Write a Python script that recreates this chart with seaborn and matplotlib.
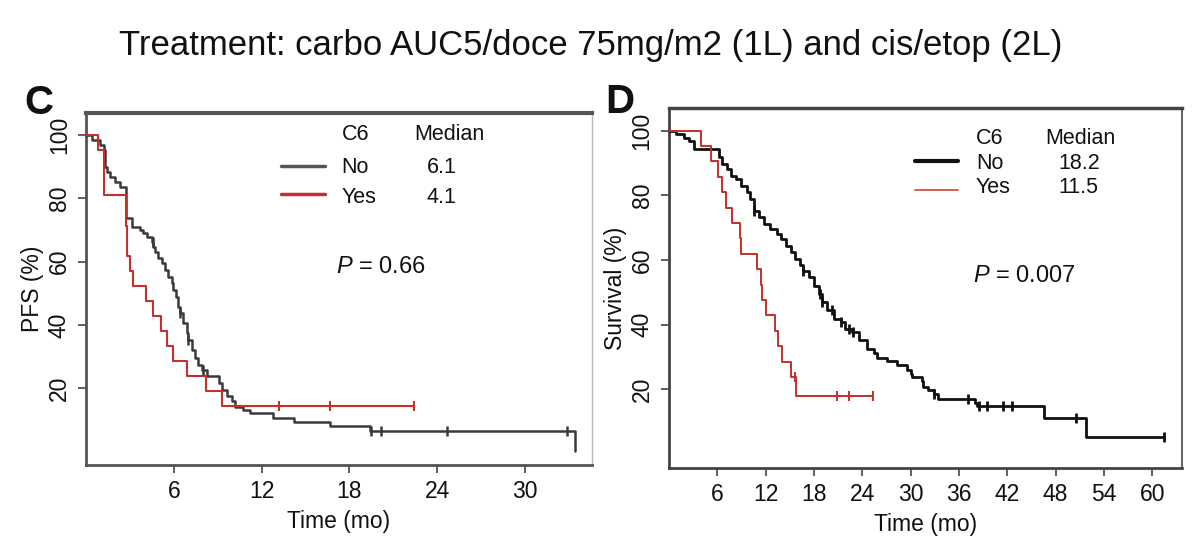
import numpy as np
import pandas as pd
import matplotlib
matplotlib.use("Agg")
import matplotlib.pyplot as plt
import seaborn as sns
from matplotlib.lines import Line2D

# ---------------- data ----------------
title = "Treatment: carbo AUC5/doce 75mg/m2 (1L) and cis/etop (2L)"
group_labels = ["No", "Yes"]

# Panel C: PFS
c_no_time = [0, 0.4, 0.96, 1.2, 1.3, 1.45, 1.64, 1.98, 2.33, 2.71, 2.76, 3.12, 3.69, 3.92,
             4.15, 4.49, 4.6, 4.72, 4.95, 5.18, 5.4, 5.63, 5.86, 5.97, 6.16, 6.31, 6.43,
             6.66, 6.89, 7.0, 7.23, 7.46, 7.68, 7.91, 8.26, 9.06, 9.28, 9.62, 9.97, 10.19,
             10.76, 11.2, 12.8, 14.2, 16.7, 19.4, 33.4]
c_no_surv = [100, 98.4, 96.8, 95.2, 90.0, 88.4, 86.8, 85.3, 83.7, 82.1, 73.7, 71.0, 70.0, 69.0,
             67.7, 66.3, 64.7, 63.2, 61.1, 59.5, 57.4, 55.3, 53.2, 51.1, 48.9, 45.8, 43.7,
             40.5, 37.4, 35.3, 32.1, 29.5, 27.4, 25.8, 23.7, 21.6, 19.5, 17.4, 15.8, 14.2,
             13.2, 12.1, 10.5, 9.3, 7.9, 6.3, 0]
c_no_cens = [4.55, 6.43, 7.0, 8.0, 19.45, 20.2, 24.7, 32.9]

c_yes_time = [0, 0.8, 1.25, 2.75, 2.8, 3.0, 3.2, 4.1, 4.6, 5.1, 5.52, 5.97, 6.89, 8.2, 9.28]
c_yes_surv = [100, 95.2, 81.0, 71.4, 61.9, 57.1, 52.4, 47.6, 42.9, 38.1, 33.3, 28.6, 23.8, 19.0, 14.3]
c_yes_cens = [13.2, 16.7, 22.4]

c_medians = ["6.1", "4.1"]
c_pvalue = "0.66"
c_xticks = [6, 12, 18, 24, 30]

# Panel D: overall survival
d_no_time = [0, 0.82, 1.85, 2.47, 3.09, 6.19, 6.6, 7.23, 7.64, 8.26, 8.88, 9.71, 10.1, 10.5,
             11.15, 11.77, 12.6, 13.4, 13.85, 14.47, 15.1, 15.7, 16.3, 16.7, 17.36, 17.98,
             18.6, 19.0, 19.6, 20.5, 21.3, 21.9, 22.7, 23.6, 24.6, 25.4, 25.8, 27.1, 28.3,
             29.6, 30.0, 30.2, 31.4, 31.6, 32.2, 32.9, 33.4, 38.0, 38.3, 46.6, 51.8]
d_no_surv = [100, 98.9, 97.8, 96.8, 94.2, 91.7, 89.6, 88.1, 86.0, 85.0, 82.9, 80.9, 78.8, 75.2,
             73.2, 71.1, 69.6, 68.1, 66.5, 64.4, 62.4, 60.4, 58.3, 56.7, 54.7, 52.1,
             49.6, 47.0, 44.4, 41.9, 40.8, 38.8, 37.7, 35.2, 32.6, 31.1, 29.8, 28.8, 27.5,
             26.1, 24.9, 23.7, 22.6, 20.8, 19.8, 18.5, 17.0, 15.9, 14.8, 11.1, 5.4]
d_no_cens = [10.6, 16.7, 18.8, 19.0, 20.3, 21.3, 22.3, 22.9, 32.9, 37.1, 38.5, 39.5, 41.5,
             42.6, 50.5, 61.5]

d_yes_time = [0, 4.0, 5.16, 6.07, 6.6, 7.02, 7.85, 8.76, 9.0, 10.95, 11.4, 11.57, 12.0, 13.2,
              13.5, 14.05, 15.1, 15.8]
d_yes_surv = [100, 95.2, 90.5, 85.7, 81.0, 76.2, 71.4, 66.7, 61.9, 57.1, 52.4, 47.6, 42.9, 38.1,
              33.3, 28.6, 23.8, 17.9]
d_yes_cens = [15.6, 20.9, 22.3, 25.3]

d_medians = ["18.2", "11.5"]
d_pvalue = "0.007"
d_xticks = [6, 12, 18, 24, 30, 36, 42, 48, 54, 60]

yticks = [20, 40, 60, 80, 100]

# ---------------- style ----------------
sns.set_theme(style="white")
plt.rcParams["font.family"] = ["Liberation Sans", "DejaVu Sans"]
plt.rcParams["mathtext.fontset"] = "custom"
plt.rcParams["mathtext.it"] = "Liberation Sans:italic"
plt.rcParams["mathtext.rm"] = "Liberation Sans"

RED = "#c62f2b"
TXT = "#111111"
TICK_FS = 16.5
LEG_FS = 15.5

fig = plt.figure(figsize=(12, 5.6), dpi=100)
axC = fig.add_axes([0.0717, 0.1696, 0.4217, 0.6286])
axD = fig.add_axes([0.5575, 0.1643, 0.4275, 0.6429])


def km(ax, t, s, cens, color, lw):
    t = list(t)
    s = list(s)
    if cens and max(cens) > t[-1]:
        t.append(max(cens))
        s.append(s[-1])
    df = pd.DataFrame({"t": t, "s": s})
    sns.lineplot(data=df, x="t", y="s", drawstyle="steps-post", estimator=None,
                 sort=False, color=color, lw=lw, ax=ax, zorder=3)
    ta = np.asarray(t)
    sa = np.asarray(s)
    cy = [sa[np.searchsorted(ta, c, side="right") - 1] for c in cens]
    sns.scatterplot(x=cens, y=cy, marker="|", s=45, color=color, linewidth=lw,
                    ax=ax, zorder=4, legend=False)


def style_axes(ax, xlim, xticks, ylabel, spine_cols, spine_lws):
    ax.set_xlim(*xlim)
    ax.set_ylim(-4.3, 107)
    ax.set_xticks(xticks)
    ax.set_yticks(yticks)
    ax.set_xticklabels([str(v) for v in xticks])
    ax.set_yticklabels([str(v) for v in yticks], rotation=90, va="center")
    ax.tick_params(axis="both", which="both", direction="out", length=6, width=1.2,
                   color="#444444", labelsize=TICK_FS, pad=5, bottom=True, left=True,
                   labelcolor=TXT)
    ax.set_xlabel("Time (mo)", fontsize=TICK_FS, labelpad=5, color=TXT)
    ax.set_ylabel(ylabel, fontsize=TICK_FS, labelpad=3, color=TXT)
    for side in ["top", "left", "bottom", "right"]:
        ax.spines[side].set_visible(True)
        ax.spines[side].set_color(spine_cols[side])
        ax.spines[side].set_linewidth(spine_lws[side])
    ax.set_facecolor("white")


def legend_block(ax, colors, lws, medians, pval, geo):
    lx0, lx1, ly, cx, mx, vx, yb, px, py = geo
    ax.text(cx, yb[0], "C6", transform=ax.transAxes, fontsize=LEG_FS, va="baseline", color=TXT)
    ax.text(mx, yb[0], "Median", transform=ax.transAxes, fontsize=LEG_FS, va="baseline", color=TXT)
    for i, lab in enumerate(group_labels):
        ax.add_line(Line2D([lx0, lx1], [ly[i], ly[i]], transform=ax.transAxes,
                           color=colors[i], lw=lws[i]))
        ax.text(cx, yb[i + 1], lab, transform=ax.transAxes, fontsize=LEG_FS, va="baseline",
                color=TXT)
        ax.text(vx, yb[i + 1], medians[i], transform=ax.transAxes, fontsize=LEG_FS,
                va="baseline", color=TXT)
    ax.text(px, py, r"$P$ = " + pval, transform=ax.transAxes, fontsize=17,
            va="baseline", color=TXT)


# Panel C
km(axC, c_no_time, c_no_surv, c_no_cens, "#3a3a3a", 1.8)
km(axC, c_yes_time, c_yes_surv, c_yes_cens, RED, 1.5)
style_axes(axC, (0, 34.6), c_xticks, "PFS (%)",
           {"top": "#555555", "left": "#555555", "bottom": "#555555", "right": "#bbbbbb"},
           {"top": 3.0, "left": 2.0, "bottom": 2.0, "right": 1.0})
legend_block(axC, ["#555555", RED], [2.5, 2.5], c_medians, c_pvalue,
             (0.385, 0.472, [0.850, 0.769], 0.505, 0.648, 0.673,
              [0.923, 0.829, 0.745], 0.494, 0.546))

# Panel D
km(axD, d_no_time, d_no_surv, d_no_cens, "#111111", 2.0)
km(axD, d_yes_time, d_yes_surv, d_yes_cens, RED, 1.4)
style_axes(axD, (0, 63.7), d_xticks, "Survival (%)",
           {"top": "#444444", "left": "#444444", "bottom": "#444444", "right": "#666666"},
           {"top": 2.5, "left": 2.0, "bottom": 2.0, "right": 1.5})
legend_block(axD, ["#111111", "#d9604f"], [3.0, 1.4], d_medians, d_pvalue,
             (0.480, 0.563, [0.852, 0.773], 0.598, 0.734, 0.759,
              [0.901, 0.831, 0.764], 0.593, 0.517))

# Title and panel letters
fig.text(0.492, 0.918, title, ha="center", va="center", fontsize=25, color=TXT)
fig.text(24 / 1200, 1 - 114 / 560, "C", fontsize=29, fontweight="bold", va="baseline",
         color=TXT)
fig.text(605 / 1200, 1 - 113 / 560, "D", fontsize=29, fontweight="bold", va="baseline",
         color=TXT)

fig.savefig("out.png", dpi=100, facecolor="white")
